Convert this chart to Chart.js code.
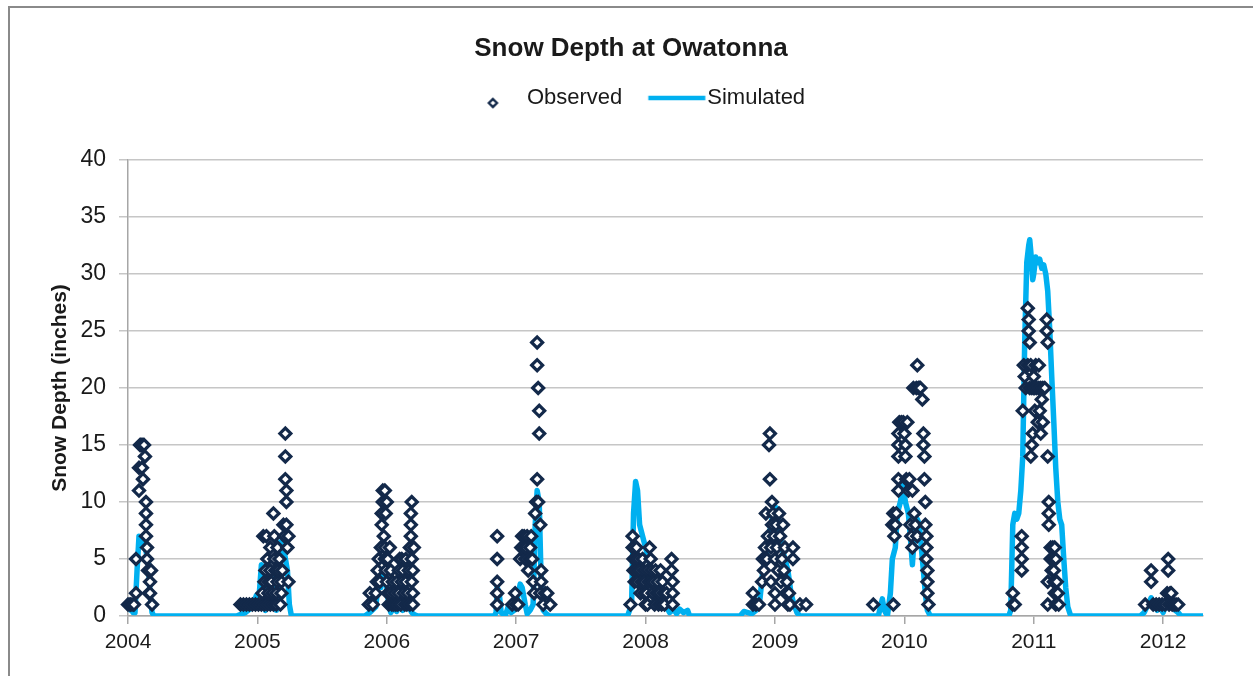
<!DOCTYPE html>
<html>
<head>
<meta charset="utf-8">
<title>Snow Depth at Owatonna</title>
<script src="https://cdn.jsdelivr.net/npm/chart.js@4/dist/chart.umd.min.js"></script>
<style>
  html, body { margin: 0; padding: 0; background: #fff; overflow: hidden; }
  #frame { position: absolute; left: 8px; top: 6px; width: 1400px; height: 1000px; border: 2px solid #8a8a8a; }
  #wrap { position: absolute; left: 9px; top: 0; width: 1244px; height: 676px; }
</style>
</head>
<body>
<div id="frame"></div>
<div id="wrap"><canvas id="snowChart"></canvas></div>
<script>
// Snow depth at Owatonna, observed vs simulated (inches)
// dates are decimal years, one line per winter

const obsDate = [
    2004.000, 2004.015, 2004.023, 2004.039, 2004.046, 2004.062, 2004.062, 2004.085, 2004.085, 2004.093, 2004.100, 2004.108, 2004.116, 2004.124, 2004.108, 2004.131, 2004.116, 2004.139, 2004.139, 2004.139, 2004.139, 2004.147, 2004.147, 2004.155, 2004.178, 2004.170, 2004.162, 2004.170, 2004.186,
    2004.869, 2004.892, 2004.915, 2004.938, 2004.961, 2004.985, 2005.008, 2005.031, 2005.054, 2005.077, 2005.100, 2005.124, 2005.147, 2005.178, 2005.039, 2005.054, 2005.062, 2005.046, 2005.070, 2005.077, 2005.085, 2005.085, 2005.100, 2005.100, 2005.108, 2005.116, 2005.124, 2005.131, 2005.131, 2005.139, 2005.147, 2005.155, 2005.155, 2005.162, 2005.170, 2005.186, 2005.186, 2005.193, 2005.201, 2005.209, 2005.216, 2005.216, 2005.216, 2005.224, 2005.224, 2005.224, 2005.232, 2005.240, 2005.240,
    2005.861, 2005.869, 2005.892, 2005.915, 2005.923, 2005.930, 2005.938, 2005.946, 2005.954, 2005.961, 2005.961, 2005.969, 2005.969, 2005.985, 2005.977, 2005.985, 2005.985, 2005.992, 2005.992, 2006.000, 2006.000, 2006.008, 2006.008, 2006.015, 2006.023, 2006.031, 2006.031, 2006.039, 2006.046, 2006.054, 2006.062, 2006.070, 2006.077, 2006.085, 2006.093, 2006.093, 2006.100, 2006.108, 2006.116, 2006.116, 2006.124, 2006.131, 2006.139, 2006.147, 2006.147, 2006.155, 2006.162, 2006.170, 2006.178, 2006.178, 2006.186, 2006.186, 2006.186, 2006.193, 2006.193, 2006.193, 2006.201, 2006.201, 2006.201, 2006.209,
    2006.853, 2006.853, 2006.853, 2006.853, 2006.853, 2006.969, 2006.992, 2007.000, 2007.015, 2007.031, 2007.039, 2007.046, 2007.054, 2007.062, 2007.070, 2007.077, 2007.085, 2007.093, 2007.100, 2007.108, 2007.116, 2007.124, 2007.131, 2007.139, 2007.147, 2007.155, 2007.162, 2007.162, 2007.162, 2007.170, 2007.178, 2007.178, 2007.170, 2007.186, 2007.193, 2007.186, 2007.193, 2007.209, 2007.224, 2007.240, 2007.263,
    2007.884, 2007.900, 2007.900, 2007.907, 2007.907, 2007.915, 2007.923, 2007.930, 2007.930, 2007.938, 2007.946, 2007.954, 2007.961, 2007.969, 2007.977, 2007.985, 2007.992, 2007.992, 2008.000, 2008.008, 2008.015, 2008.015, 2008.023, 2008.031, 2008.039, 2008.039, 2008.046, 2008.054, 2008.062, 2008.070, 2008.077, 2008.085, 2008.093, 2008.100, 2008.108, 2008.116, 2008.124, 2008.131, 2008.139, 2008.147, 2008.162, 2008.201, 2008.201, 2008.209, 2008.209, 2008.209,
    2008.830, 2008.830, 2008.853, 2008.876, 2008.900, 2008.907, 2008.915, 2008.923, 2008.930, 2008.938, 2008.946, 2008.954, 2008.961, 2008.961, 2008.969, 2008.969, 2008.977, 2008.977, 2008.985, 2008.992, 2009.000, 2009.000, 2009.000, 2009.008, 2009.015, 2009.023, 2009.031, 2009.039, 2009.046, 2009.054, 2009.062, 2009.070, 2009.077, 2009.085, 2009.093, 2009.100, 2009.108, 2009.116, 2009.139, 2009.139, 2009.193, 2009.240,
    2009.760, 2009.915, 2009.907, 2009.915, 2009.923, 2009.930, 2009.938, 2009.954, 2009.954, 2009.954, 2009.954, 2009.954, 2009.961, 2009.977, 2009.992, 2010.000, 2010.008, 2010.008, 2010.015, 2010.023, 2010.031, 2010.039, 2010.046, 2010.054, 2010.062, 2010.062, 2010.070, 2010.077, 2010.085, 2010.093, 2010.100, 2010.100, 2010.108, 2010.116, 2010.124, 2010.139, 2010.147, 2010.147, 2010.155, 2010.155, 2010.162, 2010.162, 2010.170, 2010.170, 2010.170, 2010.178, 2010.178, 2010.178, 2010.186,
    2010.838, 2010.838, 2010.853, 2010.907, 2010.907, 2010.907, 2010.907, 2010.915, 2010.923, 2010.930, 2010.938, 2010.954, 2010.954, 2010.961, 2010.961, 2010.969, 2010.969, 2010.977, 2010.977, 2010.985, 2010.985, 2010.992, 2011.000, 2011.000, 2011.008, 2011.008, 2011.015, 2011.023, 2011.031, 2011.039, 2011.039, 2011.046, 2011.054, 2011.054, 2011.062, 2011.070, 2011.070, 2011.085, 2011.100, 2011.100, 2011.108, 2011.108, 2011.116, 2011.116, 2011.116, 2011.108, 2011.108, 2011.131, 2011.131, 2011.139, 2011.147, 2011.147, 2011.155, 2011.155, 2011.162, 2011.162, 2011.170, 2011.170, 2011.178, 2011.186, 2011.193,
    2011.861, 2011.907, 2011.907, 2011.923, 2011.946, 2011.969, 2011.992, 2012.015, 2012.031, 2012.039, 2012.039, 2012.046, 2012.054, 2012.062, 2012.070, 2012.085, 2012.100, 2012.116
];

const obsDepth = [
    1, 1, 1, 1, 1, 2, 5, 11, 13, 15, 15, 15, 15, 15, 13, 14, 12, 10, 9, 8, 7, 6, 5, 4, 4, 3, 2, 2, 1,
    1, 1, 1, 1, 1, 1, 1, 1, 1, 1, 1, 1, 1, 1, 2, 3, 4, 7, 7, 5, 3, 2, 4, 6, 3, 2, 9, 5, 7, 4, 2, 3, 6, 4, 5, 2, 3, 4, 8, 7, 16, 14, 12, 11, 10, 8, 6, 7, 3,
    1, 2, 1, 2, 3, 4, 5, 3, 6, 8, 9, 10, 11, 11, 7, 6, 5, 4, 9, 10, 3, 2, 5, 1, 6, 4, 2, 1, 3, 1, 2, 1, 3, 1, 4, 2, 5, 1, 3, 5, 4, 2, 1, 3, 5, 1, 2, 4, 1, 6, 7, 8, 9, 10, 5, 3, 4, 2, 1, 6,
    7, 5, 3, 2, 1, 1, 2, 1, 1, 5, 6, 7, 6, 7, 5, 6, 7, 4, 5, 6, 7, 5, 3, 2, 9, 10, 12, 24, 22, 20, 18, 16, 10, 8, 4, 2, 3, 1, 2, 2, 1,
    1, 7, 6, 5, 4, 3, 5, 4, 6, 3, 5, 4, 2, 3, 5, 4, 2, 3, 1, 2, 1, 4, 3, 6, 5, 3, 4, 2, 3, 1, 4, 2, 3, 1, 2, 4, 1, 3, 2, 1, 2, 5, 4, 3, 2, 1,
    2, 1, 1, 1, 3, 5, 4, 6, 9, 5, 7, 15, 16, 12, 6, 3, 10, 8, 9, 7, 5, 2, 1, 8, 6, 4, 9, 7, 3, 5, 8, 4, 6, 2, 3, 1, 2, 1, 6, 5, 1, 1,
    1, 1, 8, 9, 7, 8, 9, 11, 12, 14, 15, 16, 17, 17, 17, 16, 15, 14, 12, 17, 11, 12, 8, 7, 11, 6, 20, 9, 8, 20, 22, 7, 20, 20, 20, 19, 16, 15, 14, 12, 10, 8, 7, 6, 5, 4, 3, 2, 1,
    2, 1, 1, 7, 6, 5, 4, 18, 22, 21, 20, 22, 27, 26, 25, 24, 20, 22, 14, 20, 15, 16, 20, 21, 18, 20, 22, 20, 17, 20, 22, 18, 16, 20, 19, 20, 17, 20, 26, 25, 24, 14, 10, 9, 8, 3, 1, 6, 5, 4, 6, 5, 4, 3, 2, 6, 5, 1, 3, 2, 1,
    1, 4, 3, 1, 1, 1, 1, 1, 2, 4, 5, 1, 2, 2, 1, 1, 1, 1
];

const simDate = [
    2004.000, 2004.023, 2004.039, 2004.054, 2004.070, 2004.085, 2004.108, 2004.131, 2004.155, 2004.170, 2004.186, 2004.201,
    2004.838, 2004.907, 2004.961, 2004.992, 2005.015, 2005.031, 2005.046, 2005.062, 2005.085, 2005.100, 2005.116, 2005.131, 2005.147, 2005.162, 2005.178, 2005.193, 2005.209, 2005.232, 2005.247, 2005.263,
    2005.830, 2005.869, 2005.915, 2005.930, 2005.954, 2005.969, 2005.985, 2006.000, 2006.015, 2006.031, 2006.054, 2006.077, 2006.100, 2006.124, 2006.147, 2006.170, 2006.193, 2006.216, 2006.240,
    2006.830, 2006.845, 2006.853, 2006.869, 2006.884, 2006.915, 2006.938, 2006.961, 2006.985, 2007.008, 2007.031, 2007.046, 2007.070, 2007.085, 2007.108, 2007.131, 2007.147, 2007.162, 2007.178, 2007.193, 2007.209, 2007.232, 2007.255,
    2007.861, 2007.876, 2007.892, 2007.907, 2007.923, 2007.938, 2007.954, 2007.977, 2008.000, 2008.023, 2008.046, 2008.070, 2008.093, 2008.116, 2008.139, 2008.162, 2008.185, 2008.216, 2008.240, 2008.263, 2008.294, 2008.325, 2008.340,
    2008.730, 2008.760, 2008.791, 2008.822, 2008.853, 2008.884, 2008.907, 2008.930, 2008.954, 2008.977, 2009.008, 2009.031, 2009.054, 2009.077, 2009.100, 2009.124, 2009.147, 2009.170, 2009.193,
    2009.799, 2009.815, 2009.830, 2009.845, 2009.869, 2009.892, 2009.907, 2009.930, 2009.946, 2009.969, 2009.992, 2010.008, 2010.031, 2010.046, 2010.062, 2010.077, 2010.100, 2010.116, 2010.131, 2010.147, 2010.162, 2010.178, 2010.201,
    2010.807, 2010.822, 2010.838, 2010.853, 2010.869, 2010.884, 2010.900, 2010.915, 2010.930, 2010.946, 2010.961, 2010.969, 2010.977, 2010.992, 2011.000, 2011.015, 2011.031, 2011.046, 2011.062, 2011.077, 2011.093, 2011.108, 2011.124, 2011.139, 2011.155, 2011.170, 2011.186, 2011.201, 2011.216, 2011.232, 2011.247, 2011.263, 2011.286,
    2011.822, 2011.853, 2011.884, 2011.907, 2011.930, 2011.954, 2011.977, 2012.000, 2012.023, 2012.046, 2012.070, 2012.093, 2012.116, 2012.139, 2012.308
];

const simDepth = [
    0.5, 0.6, 0.3, 0.3, 4, 7, 6.5, 6, 5, 2, 0.3, 0,
    0, 0.3, 0.8, 1.8, 2, 4.5, 1, 0.5, 3, 1, 4, 2, 0.5, 5, 6.5, 6, 5.5, 4, 1, 0,
    0, 0.3, 0.8, 2.5, 2.5, 3.5, 4, 2.5, 1, 0.3, 0.8, 0.4, 1.2, 0.5, 1.5, 0.8, 0.3, 0.1, 0,
    0, 0.3, 2.5, 2, 0.3, 0, 0.8, 0.3, 0.5, 1.5, 2.8, 2.5, 1, 0.2, 0.5, 1, 8, 11, 10, 3, 0.5, 0.2, 0,
    0, 0.5, 1, 9, 11.8, 11, 8, 7, 6, 5, 4, 3.5, 3, 2, 1.5, 0.8, 0.3, 0.6, 0.2, 0.6, 0.3, 0.5, 0,
    0, 0.4, 0.3, 0.2, 0.5, 1.5, 4, 5, 7, 8.5, 9.5, 8, 6, 5, 4, 2, 1, 0.3, 0,
    0, 0.8, 1.5, 0.5, 0, 2, 5, 6, 9, 10, 11.5, 10, 9, 7, 4.5, 7, 8.5, 8, 6, 4, 2, 0.5, 0,
    0, 0.5, 8, 9, 8.5, 9, 11, 14, 24, 31, 32.5, 33, 32, 29.5, 30, 31.5, 31, 31.3, 30.5, 30.8, 30, 28.5, 25, 21, 17, 13, 10, 8.5, 8, 5, 2.5, 0.8, 0,
    0, 0.3, 1, 1.6, 1, 0.5, 0.8, 0.3, 1, 1.5, 1, 0.5, 0.3, 0, 0
];

const seriesNames = ['Observed', 'Simulated'];
const depthTicks = { min: 0, max: 40, step: 5 };
const yearRange = { min: 2004, max: 2012.308 };

const navy = '#13294a';
const skyBlue = '#00b0f0';
const axisGray = '#a6a6a6';
const gridGray = '#c6c6c6';
const textColor = '#1a1a1a';

Chart.defaults.font.family = "'Liberation Sans', Arial, sans-serif";

// legend swatches: little diamond and the thick line, drawn on small canvases
function diamondSwatch() {
    const c = document.createElement('canvas');
    c.width = 30;
    c.height = 24;
    const g = c.getContext('2d');
    const cx = 21.5, cy = 17, r = 4;
    g.beginPath();
    g.moveTo(cx, cy - r);
    g.lineTo(cx + r, cy);
    g.lineTo(cx, cy + r);
    g.lineTo(cx - r, cy);
    g.closePath();
    g.fillStyle = '#fff';
    g.fill();
    g.lineWidth = 2.4;
    g.strokeStyle = navy;
    g.stroke();
    return c;
}

function lineSwatch() {
    const c = document.createElement('canvas');
    c.width = 80;
    c.height = 8;
    const g = c.getContext('2d');
    g.beginPath();
    g.moveTo(21.5, 4);
    g.lineTo(78.5, 4);
    g.lineWidth = 4.5;
    g.strokeStyle = skyBlue;
    g.stroke();
    return c;
}

const swatches = [diamondSwatch(), lineSwatch()];

const observedPoints = obsDate.map((d, i) => ({ x: d, y: obsDepth[i] }));
const simulatedPoints = simDate.map((d, i) => ({ x: d, y: simDepth[i] }));

const ctx = document.getElementById('snowChart').getContext('2d');
window.snowChart = new Chart(ctx, {
    type: 'scatter',
    data: {
        datasets: [{
            label: seriesNames[0],
            data: observedPoints,
            yAxisID: 'y',
            pointStyle: 'rectRot',
            pointRadius: 5.5,
            pointBorderWidth: 3.2,
            pointBackgroundColor: '#ffffff',
            pointBorderColor: navy,
            showLine: false,
            clip: 10
        }, {
            label: seriesNames[1],
            data: simulatedPoints,
            yAxisID: 'y',
            showLine: true,
            pointRadius: 0,
            borderColor: skyBlue,
            borderWidth: 5.5,
            borderJoinStyle: 'round',
            tension: 0
        }]
    },
    options: {
        responsive: true,
        maintainAspectRatio: false,
        devicePixelRatio: 1,
        animation: false,
        events: [],
        layout: { padding: 0 },
        plugins: {
            title: {
                display: true,
                text: 'Snow Depth at Owatonna',
                color: textColor,
                font: { size: 26, weight: 'bold', lineHeight: 0.5 },
                padding: { top: 42.5, bottom: 16.5 }
            },
            // empty subtitle used as spacer between legend and plot
            subtitle: {
                display: true,
                text: '',
                weight: 500,
                padding: 0,
                font: { size: 41, lineHeight: 1 }
            },
            legend: {
                position: 'top',
                weight: 1000,
                labels: {
                    usePointStyle: true,
                    pointStyleWidth: 59,
                    padding: 15,
                    color: textColor,
                    font: { size: 22 },
                    generateLabels: () => seriesNames.map((name, i) => ({
                        text: name,
                        pointStyle: swatches[i],
                        fontColor: textColor,
                        hidden: false,
                        lineWidth: 0,
                        datasetIndex: i
                    }))
                }
            },
            tooltip: { enabled: false }
        },
        scales: {
            x: {
                type: 'linear',
                position: 'bottom',
                min: yearRange.min,
                max: yearRange.max,
                afterFit: s => { s.height = 60; },
                ticks: {
                    stepSize: 1,
                    includeBounds: false,
                    autoSkip: false,
                    maxRotation: 0,
                    padding: 6,
                    color: textColor,
                    font: { size: 21 },
                    callback: v => String(v)
                },
                grid: {
                    drawOnChartArea: false,
                    drawTicks: true,
                    tickLength: 8,
                    color: axisGray,
                    lineWidth: 1.5
                },
                border: { color: axisGray, width: 1.5 }
            },
            y: {
                position: 'left',
                min: depthTicks.min,
                max: depthTicks.max,
                afterFit: s => { s.width = 119; },
                ticks: {
                    stepSize: depthTicks.step,
                    padding: 13,
                    color: textColor,
                    font: { size: 23 }
                },
                grid: {
                    color: gridGray,
                    lineWidth: 1.5,
                    tickLength: 9
                },
                border: { color: axisGray, width: 1.5 },
                title: {
                    display: true,
                    text: 'Snow Depth (inches)',
                    color: textColor,
                    font: { size: 21, weight: 'bold' },
                    padding: { top: 38.4, bottom: 0 }
                }
            },
            // blank right margin so the plot ends where the original does
            yRight: {
                position: 'right',
                display: true,
                afterFit: s => { s.width = 50; },
                ticks: { display: false },
                grid: { display: false },
                border: { display: false }
            }
        }
    }
});
</script>
</body>
</html>
